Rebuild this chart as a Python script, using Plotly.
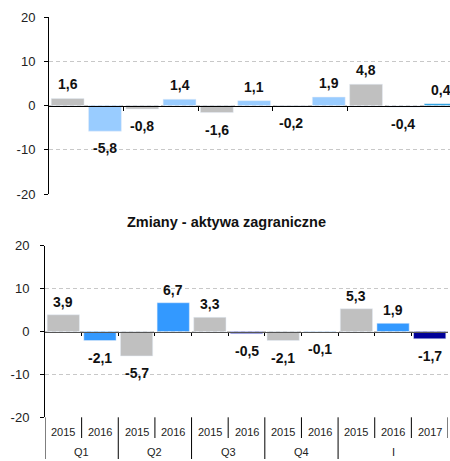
import plotly.graph_objects as go

# ---- data ----
years = ["2015", "2016", "2015", "2016", "2015", "2016", "2015", "2016", "2015", "2016", "2017"]
groups = ["Q1", "Q2", "Q3", "Q4", "I"]
group_sizes = [2, 2, 2, 2, 3]

top_values = [1.6, -5.8, -0.8, 1.4, -1.6, 1.1, -0.2, 1.9, 4.8, -0.4, 0.4]
top_colors = ["#c0c0c0", "#99ccff", "#c0c0c0", "#99ccff", "#c0c0c0", "#99ccff",
              "#c0c0c0", "#99ccff", "#c0c0c0", "rgba(255,255,255,0)", "#1e9be0"]

bottom_title = "Zmiany - aktywa zagraniczne"
bottom_values = [3.9, -2.1, -5.7, 6.7, 3.3, -0.5, -2.1, -0.1, 5.3, 1.9, -1.7]
bottom_colors = ["#c0c0c0", "#3399ff", "#c0c0c0", "#3399ff", "#c0c0c0", "#3c3cc8",
                 "#c0c0c0", "#99ccff", "#c0c0c0", "#3399ff", "#000099"]

y_ticks = [-20, -10, 0, 10, 20]
y_ticktext = [str(t) for t in y_ticks]

W, H = 450, 461
FONT = "Liberation Sans, Arial, sans-serif"


def fy(px):
    return (H - px) / H


def fmt(v):
    return f"{v:.1f}".replace(".", ",")


n = len(years)
xs = list(range(n))

top_dom = [fy(194), fy(17)]
bot_dom = [fy(417.3), fy(245.7)]

fig = go.Figure()
fig.add_trace(go.Bar(x=xs, y=top_values, marker_color=top_colors, width=0.88,
                     xaxis="x", yaxis="y", showlegend=False, hoverinfo="skip"))
fig.add_trace(go.Bar(x=xs, y=bottom_values, marker_color=bottom_colors, width=0.88,
                     xaxis="x2", yaxis="y2", showlegend=False, hoverinfo="skip"))

label_font = dict(family=FONT, size=14, color="#111111")
annotations = []
for i, v in enumerate(top_values):
    annotations.append(dict(x=i, y=v, xref="x", yref="y", text=f"<b>{fmt(v)}</b>", showarrow=False,
                            yanchor="middle", yshift=14 if v >= 0 else -17, font=label_font))
for i, v in enumerate(bottom_values):
    annotations.append(dict(x=i, y=v, xref="x2", yref="y2", text=f"<b>{fmt(v)}</b>", showarrow=False,
                            yanchor="middle", yshift=13 if v >= 0 else -17, font=label_font))

# title of bottom chart
annotations.append(dict(x=226 / W, y=fy(221.5), xref="paper", yref="paper", text=f"<b>{bottom_title}</b>",
                        showarrow=False, xanchor="center", yanchor="middle",
                        font=dict(family=FONT, size=14.5, color="#111111")))

# category labels
for i, yr in enumerate(years):
    annotations.append(dict(x=i, y=fy(431.7), xref="x2", yref="paper", text=yr, showarrow=False,
                            yanchor="middle", font=dict(family=FONT, size=11, color="#222222")))
start = 0
bounds_long = []
for g, s in zip(groups, group_sizes):
    annotations.append(dict(x=start + (s - 1) / 2, y=fy(451.7), xref="x2", yref="paper", text=g,
                            showarrow=False, yanchor="middle",
                            font=dict(family=FONT, size=11, color="#222222")))
    start += s
    bounds_long.append(start - 0.5)

shapes = []
# left axis extension
shapes.append(dict(type="line", xref="x2", yref="paper", x0=-0.5, x1=-0.5,
                   y0=fy(417.3), y1=fy(459), line=dict(color="#000000", width=1)))
for b in [k + 0.5 for k in range(n)]:
    if b in bounds_long[:-1]:
        y1 = fy(459)
    else:
        y1 = fy(438)
    shapes.append(dict(type="line", xref="x2", yref="paper", x0=b, x1=b,
                       y0=fy(417.3), y1=y1, line=dict(color="#000000", width=1)))

tick_font = dict(family=FONT, size=13, color="#222222")

fig.update_layout(
    width=W, height=H,
    margin=dict(l=0, r=0, t=0, b=0, autoexpand=False),
    paper_bgcolor="white", plot_bgcolor="white",
    barmode="overlay",
    annotations=annotations,
    shapes=shapes,
    xaxis=dict(domain=[49 / W, 1], range=[-0.5, -0.5 + 401 / 37.3], anchor="free",
               position=(top_dom[0] + top_dom[1]) / 2, showline=True, linecolor="#000000",
               linewidth=1, ticks="outside", ticklen=4, tickcolor="#000000",
               tickvals=[b for b in bounds_long[:-1]], showticklabels=False,
               showgrid=False, zeroline=False, automargin=False),
    yaxis=dict(domain=top_dom, range=[-20, 20], anchor="x", tickvals=y_ticks, ticktext=y_ticktext,
               showline=True, linecolor="#000000", linewidth=1, ticks="outside",
               ticklen=4, tickcolor="#000000", tickfont=tick_font,
               showgrid=True, gridcolor="#c8c8c8", griddash="4px,3px", gridwidth=1,
               zeroline=False, ticklabelstandoff=6, automargin=False),
    xaxis2=dict(domain=[45 / W, 448 / W], range=[-0.5, 10.5], anchor="free",
                position=(bot_dom[0] + bot_dom[1]) / 2, showline=True, linecolor="#555555",
                linewidth=1, ticks="outside", ticklen=3, tickcolor="#000000",
                tickvals=[k + 0.5 for k in range(n - 1)], showticklabels=False,
                showgrid=False, zeroline=False, automargin=False),
    yaxis2=dict(domain=bot_dom, range=[-20, 20], anchor="x2", tickvals=y_ticks, ticktext=y_ticktext,
                showline=True, linecolor="#000000", linewidth=1, ticks="outside",
                ticklen=4, tickcolor="#000000", tickfont=tick_font,
                showgrid=True, gridcolor="#c8c8c8", griddash="4px,3px", gridwidth=1,
                zeroline=False, ticklabelstandoff=8, automargin=False),
)

fig.write_html(
    "out.html",
    config={"displayModeBar": False},
    post_script="document.body.style.margin='0';document.body.style.overflow='hidden';"
                "document.documentElement.style.overflow='hidden';",
)
